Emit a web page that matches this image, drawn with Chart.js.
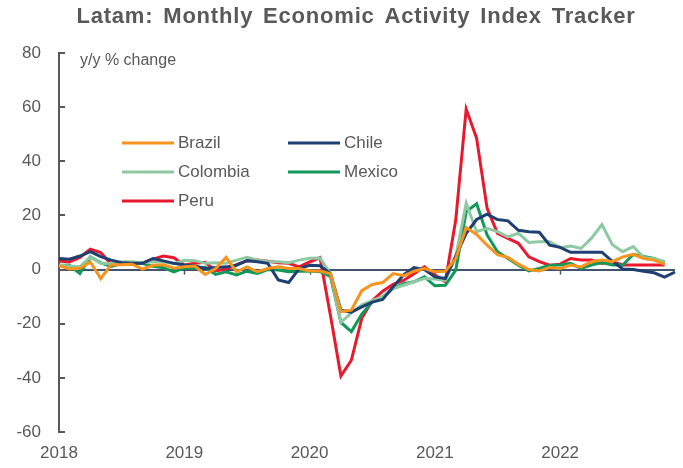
<!DOCTYPE html>
<html>
<head>
<meta charset="utf-8">
<script src="https://cdn.jsdelivr.net/npm/chart.js@4/dist/chart.umd.min.js"></script>
<style>
  html, body { margin: 0; padding: 0; background: #fff; }
  #wrap { width: 683px; height: 468px; }
</style>
</head>
<body>
<div id="wrap"><canvas id="chart" width="683" height="468"></canvas></div>
<script>
// months Jan 2018 .. Dec 2022
const months = [];
for (let y = 2018; y <= 2022; y++) {
  for (let m = 1; m <= 12; m++) months.push(y + "-" + (m < 10 ? "0" + m : m));
}

const yTicks = [-60, -40, -20, 0, 20, 40, 60, 80];

// y/y % change
const brazil = [
  1.5, 0.2, 0.5, 2.8, -3.3, 1.8, 1.8, 2.0, 0.2, 1.6, 1.8, 0.5,
  1.0, 1.3, -1.8, 0.4, 4.5, -0.8, 1.0, -0.8, 0.4, 1.0, 0.4, 0.4,
  -0.5, -0.5, -1.5, -15.5, -15.0, -7.8, -5.5, -4.8, -1.5, -2.3, -0.6, 0.4,
  -0.8, -0.6, 4.0, 15.5, 13.0, 9.0, 5.5, 4.5, 2.0, 0.0, -0.5, 0.8,
  0.4, 1.7, 1.0, 2.9, 3.5, 2.9, 4.7, 5.6, 4.1, 3.5, 2.0
];
const chile = [
  4.1, 3.8, 5.0, 6.6, 4.8, 3.5, 2.5, 2.3, 2.3, 4.1, 3.2, 2.3,
  1.7, 1.3, 0.4, 0.8, 1.0, 1.6, 3.3, 2.9, 2.3, -3.8, -4.8, 0.4,
  1.6, 1.4, -1.5, -15.0, -15.7, -13.8, -12.0, -11.0, -6.4, -2.0, 0.7, 0.0,
  -2.7, -3.3, 5.0, 13.4, 18.5, 20.5, 18.5, 18.0, 14.5, 14.0, 13.8, 9.0,
  8.2, 6.4, 6.4, 6.4, 6.4, 3.0, 0.2, 0.0, -0.6, -1.2, -2.8, -0.9
];
const colombia = [
  1.6, 1.3, 1.0, 4.7, 2.2, 2.2, 2.9, 2.9, 2.5, 2.9, 2.9, 2.2,
  3.4, 3.3, 2.3, 2.5, 2.3, 3.5, 4.5, 3.5, 2.9, 2.9, 2.5, 3.5,
  4.2, 4.3, -1.5, -19.5, -16.0, -13.0, -11.5, -10.0, -7.0, -5.8, -4.5, -3.3,
  -3.5, -4.0, 4.7, 24.5, 14.0, 15.2, 14.0, 12.1, 13.4, 10.0, 10.3, 10.3,
  8.1, 8.7, 7.8, 11.6, 16.6, 9.2, 6.6, 8.5, 4.5, 4.0, 3.0
];
const mexico = [
  1.6, 1.6, -1.5, 4.7, 2.5, 1.2, 2.2, 2.5, 2.2, 1.2, 0.7, -0.9,
  0.6, 0.5, 0.8, -1.8, -0.8, -2.0, -0.6, -1.4, 0.0, -0.2, -0.8, -0.6,
  -0.5, -0.8, -2.5, -19.5, -22.9, -16.5, -12.0, -10.1, -7.0, -5.2, -4.5, -2.7,
  -6.0, -5.8, -0.2, 21.4, 24.3, 12.8, 6.6, 4.1, 1.6, -0.5, 0.4, 1.6,
  1.7, 2.3, 0.4, 1.7, 2.6, 1.7, 1.7, 5.6, 4.8, 4.1, 2.6
];
const peru = [
  3.2, 2.8, 4.5, 7.5, 6.3, 2.0, 2.2, 2.3, 2.4, 3.8, 5.0, 4.4,
  1.7, 2.3, 2.7, -0.5, 0.2, 1.8, 3.2, 3.5, 3.1, 2.5, 2.3, 1.0,
  2.8, 4.4, -17.0, -39.3, -33.5, -18.0, -11.5, -8.0, -5.5, -4.0, -1.5, 1.0,
  -2.0, -4.5, 18.3, 59.3, 48.5, 22.7, 13.4, 11.5, 9.7, 4.7, 2.9, 1.6,
  2.0, 4.1, 3.5, 3.5, 2.3, 2.9, 1.7, 1.7, 1.7, 1.7, 1.7
];

const gray = "#595959";
const font = "'Liberation Sans', Arial, sans-serif";

function line(label, data, color) {
  return {
    label: label,
    data: data,
    borderColor: color,
    backgroundColor: color,
    borderWidth: 3,
    pointRadius: 0,
    tension: 0,
    fill: false
  };
}

// title, unit label, legend and inside tick marks
const overlay = {
  id: "overlay",
  beforeDatasetsDraw(chart) {
    const c = chart.ctx, x = chart.scales.x, y = chart.scales.y;
    const y0 = y.getPixelForValue(0);
    c.save();
    c.strokeStyle = "#44546a";
    c.lineWidth = 1.5;
    for (let i = 12; i < months.length; i += 12) {
      const px = Math.round(x.getPixelForValue(i)) + 0.5;
      c.beginPath(); c.moveTo(px, y0); c.lineTo(px, y0 + 5); c.stroke();
    }
    c.strokeStyle = gray;
    c.lineWidth = 2;
    yTicks.forEach(v => {
      const py = Math.round(y.getPixelForValue(v));
      c.beginPath(); c.moveTo(y.right, py); c.lineTo(y.right + 6, py); c.stroke();
    });
    c.restore();
  },
  afterDraw(chart) {
    const c = chart.ctx;
    c.save();
    c.fillStyle = gray;
    c.font = "bold 22px " + font;
    c.letterSpacing = "0.8px";
    c.wordSpacing = "3px";
    c.textAlign = "center";
    c.textBaseline = "middle";
    c.fillText("Latam: Monthly Economic Activity Index Tracker", 356, 17);
    c.letterSpacing = "0px";
    c.wordSpacing = "0px";

    c.font = "16px " + font;
    c.textAlign = "left";
    c.fillText("y/y % change", 80, 61);

    const pos = [[122, 143], [288, 143], [122, 172], [288, 172], [122, 201]];
    chart.data.datasets.forEach((ds, i) => {
      const p = pos[i];
      c.strokeStyle = ds.borderColor;
      c.lineWidth = 3;
      c.beginPath(); c.moveTo(p[0], p[1]); c.lineTo(p[0] + 52, p[1]); c.stroke();
      c.fillStyle = gray;
      c.font = "17px " + font;
      c.fillText(ds.label, p[0] + 56, p[1]);
    });
    c.restore();
  }
};

new Chart(document.getElementById("chart"), {
  type: "line",
  data: {
    labels: months,
    datasets: [
      line("Brazil", brazil, "#f7941d"),
      line("Chile", chile, "#1f3f73"),
      line("Colombia", colombia, "#8fc9a3"),
      line("Mexico", mexico, "#10995a"),
      line("Peru", peru, "#e8192c")
    ]
  },
  options: {
    responsive: false,
    animation: false,
    layout: { padding: { top: 53, right: 8, left: 0, bottom: 0 } },
    plugins: { legend: { display: false }, tooltip: { enabled: false } },
    scales: {
      x: {
        offset: false,
        grid: { display: false },
        border: { display: false },
        afterFit: s => { s.height = 36; },
        ticks: {
          autoSkip: false,
          maxRotation: 0,
          color: gray,
          padding: 3,
          font: { family: font, size: 17 },
          callback: (v, i) => (i % 12 === 0 ? months[i].slice(0, 4) : "")
        }
      },
      y: {
        min: -60,
        max: 80,
        afterFit: s => { s.width = 59; },
        afterBuildTicks: s => { s.ticks = yTicks.map(v => ({ value: v })); },
        border: { display: true, color: gray, width: 2 },
        grid: {
          drawTicks: false,
          lineWidth: 2,
          color: ctx => (ctx.tick && ctx.tick.value === 0 ? "#44546a" : "rgba(0,0,0,0)")
        },
        ticks: {
          color: gray,
          padding: 18,
          font: { family: font, size: 17 }
        }
      }
    }
  },
  plugins: [overlay]
});
</script>
</body>
</html>
